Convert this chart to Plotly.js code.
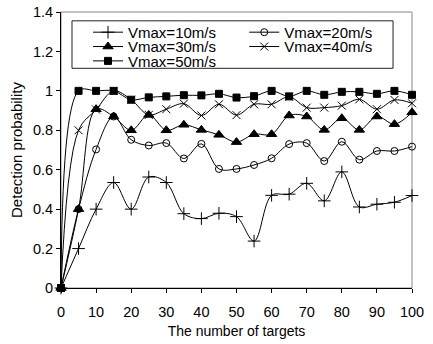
<!DOCTYPE html>
<html>
<head>
<meta charset="utf-8">
<script src="https://cdn.plot.ly/plotly-3.0.1.min.js"></script>
<style>html,body{margin:0;padding:0;background:#fff;}#chart{width:433px;height:344px;}</style>
</head>
<body>
<div id="chart"></div>
<script>
var targets = [0,5,10,15,20,25,30,35,40,45,50,55,60,65,70,75,80,85,90,95,100];
var v10 = [0,0.20,0.40,0.535,0.40,0.563,0.535,0.377,0.352,0.379,0.362,0.238,0.470,0.476,0.531,0.442,0.589,0.411,0.425,0.435,0.469];
var v20 = [0,0.40,0.703,0.870,0.752,0.723,0.735,0.657,0.731,0.604,0.604,0.624,0.658,0.730,0.735,0.644,0.742,0.651,0.695,0.695,0.717];
var v30 = [0,0.40,0.907,0.870,0.800,0.878,0.800,0.828,0.802,0.777,0.740,0.780,0.780,0.875,0.870,0.802,0.861,0.802,0.870,0.831,0.891];
var v40 = [0,0.80,0.905,1.0,0.955,0.878,0.907,0.935,0.875,0.932,0.877,0.932,0.932,0.970,0.915,0.915,0.925,0.957,0.907,0.954,0.937];
var v50 = [0,1.0,1.0,1.0,0.955,0.967,0.972,0.978,0.977,0.985,0.966,0.973,1.0,0.972,1.0,0.980,0.995,0.995,0.985,1.0,0.980];
var names = ['Vmax=10m/s','Vmax=20m/s','Vmax=30m/s','Vmax=40m/s','Vmax=50m/s'];
var series = [v10, v20, v30, v40, v50];
var symbols = ['cross-thin','circle-open','triangle-up','x-thin','square'];
var msizes = [9,7,9,8,7];
var legendIds = ['legend','legend2','legend3','legend4','legend5'];

var font = 'Liberation Sans, Arial, sans-serif';
var traces = series.map(function(ys, i){
  return {
    x: targets, y: ys, name: names[i], type: 'scatter', mode: 'lines+markers',
    line: {color: '#000', width: 1, shape: 'spline', smoothing: 1},
    marker: {symbol: symbols[i], size: msizes[i], color: '#000', line: {color: '#000', width: 1}},
    cliponaxis: false,
    legend: legendIds[i]
  };
});

// legend placement (paper coords)
var legX = [0.077, 0.522, 0.077, 0.522, 0.077];
var legY = [0.926, 0.926, 0.874, 0.874, 0.822];
function legendObj(i){
  return {x: legX[i], y: legY[i], xanchor: 'left', yanchor: 'middle', orientation: 'h',
    bgcolor: 'rgba(0,0,0,0)', borderwidth: 0, font: {family: font, size: 15, color: '#000'}, itemwidth: 30};
}

var layout = {
  width: 433, height: 344,
  margin: {l: 61, r: 21, t: 12, b: 56},
  paper_bgcolor: '#fff', plot_bgcolor: '#fff',
  font: {family: font, size: 14.5, color: '#000'},
  showlegend: true,
  xaxis: {
    range: [0, 100], tickmode: 'linear', tick0: 0, dtick: 10,
    showgrid: false, zeroline: false, showline: true, linecolor: '#000', linewidth: 1,
    ticks: 'outside', ticklen: 4, tickcolor: '#000', ticklabelstandoff: 7,
    tickfont: {family: font, size: 14.5, color: '#000'},
    title: {text: 'The number of targets', font: {family: font, size: 14, color: '#000'}, standoff: 6}
  },
  yaxis: {
    range: [0, 1.4], tickmode: 'linear', tick0: 0, dtick: 0.2,
    showgrid: false, zeroline: false, showline: true, linecolor: '#000', linewidth: 1,
    ticks: 'outside', ticklen: 4, tickcolor: '#000',
    tickfont: {family: font, size: 14.5, color: '#000'},
    title: {text: 'Detection probability', font: {family: font, size: 15, color: '#000'}, standoff: 6}
  },
  shapes: [
    {type: 'rect', xref: 'paper', yref: 'paper', x0: 0, x1: 1, y0: 0, y1: 1, line: {color: '#888', width: 1}, layer: 'below'},
    {type: 'rect', xref: 'paper', yref: 'paper', x0: 0.0313, x1: 0.946, y0: 0.796, y1: 0.968, line: {color: '#222', width: 1}, fillcolor: 'rgba(0,0,0,0)', layer: 'above'}
  ]
};
legendIds.forEach(function(id, i){ layout[id] = legendObj(i); });

Plotly.newPlot('chart', traces, layout, {displayModeBar: false, staticPlot: true});
</script>
</body>
</html>
